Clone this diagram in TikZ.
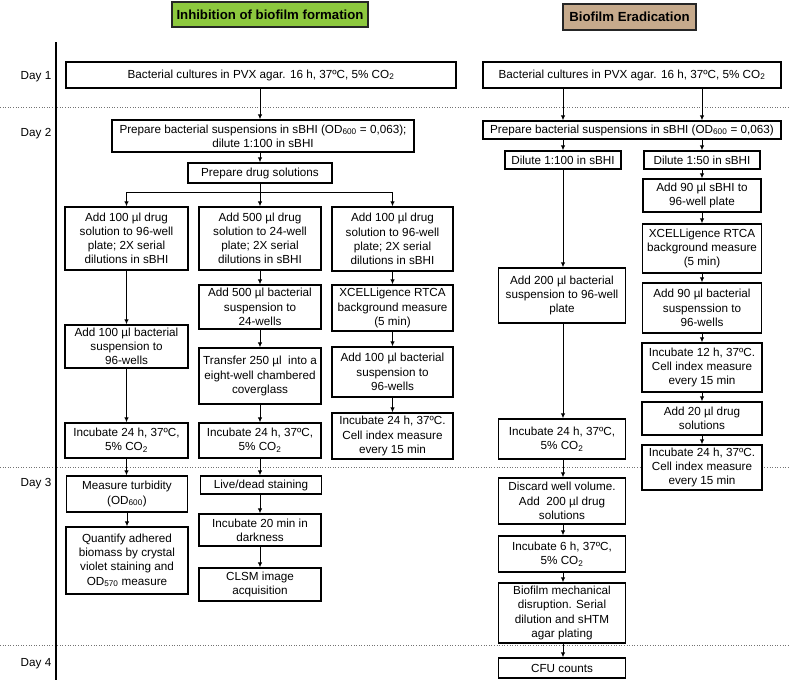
\documentclass[tikz,border=0pt]{standalone}
\usepackage{fontspec}
\setmainfont{Liberation Sans}
\usetikzlibrary{arrows.meta}
\definecolor{tgreen}{RGB}{141,200,62}
\definecolor{ttan}{RGB}{198,170,140}
\begin{document}
\begin{tikzpicture}[x=1pt,y=-1pt,
  box/.style={draw=black, line width=1.4pt, fill=white, inner sep=0pt, align=center, font=\fontsize{11.7}{14.2}\selectfont},
  bx/.style 2 args={box, minimum width=#1, minimum height=#2},
  arr/.style={-{Latex[length=5pt,width=4.5pt]}, line width=0.9pt},
  ln/.style={line width=0.9pt},
  sepline/.style={black!55, line width=0.9pt, dash pattern=on 1pt off 1.6pt},
  daylbl/.style={font=\fontsize{11.7}{14.2}\selectfont, inner sep=0pt},
  ttl/.style={draw=black!85, line width=1.4pt, inner sep=0pt, font=\bfseries\fontsize{13.2}{15}\selectfont}
]
\useasboundingbox (0,0) rectangle (789,680);

% separators and time axis
\draw[sepline] (0,107) -- (789,107);
\draw[sepline] (0,467) -- (789,467);
\draw[sepline] (0,645) -- (789,645);
\draw[line width=1.8pt] (56,42) -- (56,680);

% titles
\node[ttl, fill=tgreen, minimum width=196, minimum height=25] (t1) at (270,14.5) {Inhibition of biofilm formation};
\node[ttl, fill=ttan, minimum width=133, minimum height=26] (t2) at (629.5,17) {Biofilm Eradication};

% day labels
\node[daylbl] (d1) at (36,77) {Day 1};
\node[daylbl] (d2) at (36,134) {Day 2};
\node[daylbl] (d3) at (36,484) {Day 3};
\node[daylbl] (d4) at (36,664) {Day 4};

% ---------- left part ----------
\node[bx={390}{26}] (L0) at (261,75) {Bacterial cultures in PVX agar. 16 h, 37ºC, 5\% CO\textsubscript{2}};
\node[bx={302}{32}] (LP) at (263,136) {Prepare bacterial suspensions in sBHI (OD\textsubscript{600} = 0,063);\\dilute 1:100 in sBHI};
\node[bx={144}{20}] (LD) at (260,173) {Prepare drug solutions};
\coordinate (bar) at (260,192);

\node[bx={123}{63}] (A1) at (126.5,238.5) {Add 100 µl drug\\solution to 96-well\\plate; 2X serial\\dilutions in sBHI};
\node[bx={122}{63}] (B1) at (260,238.5) {Add 500 µl drug\\solution to 24-well\\plate; 2X serial\\dilutions in sBHI};
\node[bx={121}{64}] (C1) at (392.5,239) {Add 100 µl drug\\solution to 96-well\\plate; 2X serial\\dilutions in sBHI};

\node[bx={123}{43}] (A2) at (126.5,346.5) {Add 100 µl bacterial\\suspension to\\96-wells};
\node[bx={122}{44}] (B2) at (260,307) {Add 500 µl bacterial\\suspension to\\24-wells};
\node[bx={122}{56}] (B3) at (260,376) {Transfer 250 µl\ \ into a\\eight-well chambered\\coverglass};
\node[bx={121}{46}] (C2) at (392.5,308) {XCELLigence RTCA\\background measure\\(5 min)};
\node[bx={121}{50}] (C3) at (392.5,372) {Add 100 µl bacterial\\suspension to\\96-wells};
\node[bx={121}{46}] (C4) at (392.5,436) {Incubate 24 h, 37ºC.\\Cell index measure\\every 15 min};

\node[bx={123}{35}] (A3) at (126.5,440.5) {Incubate 24 h, 37ºC,\\5\% CO\textsubscript{2}};
\node[bx={122}{35}] (B4) at (260,440.5) {Incubate 24 h, 37ºC,\\5\% CO\textsubscript{2}};

\node[bx={121}{36}] (A4) at (127,494) {Measure turbidity\\(OD\textsubscript{600})};
\node[bx={122}{67}] (A5) at (127,560.5) {Quantify adhered\\biomass by crystal\\violet staining and\\OD\textsubscript{570} measure};
\node[bx={121}{18}] (B5) at (261,485) {Live/dead staining};
\node[bx={122}{32}] (B6) at (260,530) {Incubate 20 min in\\darkness};
\node[bx={122}{33}] (B7) at (260,584.5) {CLSM image\\acquisition};

% ---------- right part ----------
\node[bx={298}{26}] (R0) at (632,75) {Bacterial cultures in PVX agar. 16 h, 37ºC, 5\% CO\textsubscript{2}};
\node[bx={298}{18}] (RP) at (632,130) {Prepare bacterial suspensions in sBHI (OD\textsubscript{600} = 0,063)};
\node[bx={116}{18}] (RD1) at (563,160) {Dilute 1:100 in sBHI};
\node[bx={116}{18}] (RD2) at (702,160) {Dilute 1:50 in sBHI};

\node[bx={127}{55}] (RA200) at (562,295.5) {Add 200 µl bacterial\\suspension to 96-well\\plate};
\node[bx={127}{40}] (RI24b) at (562,439) {Incubate 24 h, 37ºC,\\5\% CO\textsubscript{2}};
\node[bx={127}{46}] (RDisc) at (562,501) {Discard well volume.\\Add\ \ 200 µl drug\\solutions};
\node[bx={127}{36}] (RI6) at (562,554) {Incubate 6 h, 37ºC,\\5\% CO\textsubscript{2}};
\node[bx={127}{60}] (RBio) at (562,613) {Biofilm mechanical\\disruption. Serial\\dilution and sHTM\\agar plating};
\node[bx={127}{20}] (CFU) at (562,668) {CFU counts};

\node[bx={118}{33}] (RA90) at (702,195.5) {Add 90 µl sBHI to\\96-well plate};
\node[bx={119}{49}] (RX) at (702,248.5) {XCELLigence RTCA\\background measure\\(5 min)};
\node[bx={119}{50}] (RA90b) at (702,308) {Add 90 µl bacterial\\suspenssion to\\96-wells};
\node[bx={120}{49}] (RI12) at (702,367.5) {Incubate 12 h, 37ºC.\\Cell index measure\\every 15 min};
\node[bx={120}{33}] (RA20) at (702,418.5) {Add 20 µl drug\\solutions};
\node[bx={120}{45}] (RI24c) at (702,467.5) {Incubate 24 h, 37ºC.\\Cell index measure\\every 15 min};

% ---------- connectors left ----------
\draw[arr] (L0.south -| LD.north) -- (LP.north -| LD.north);
\draw[arr] (LP.south -| LD.north) -- (LD.north);
\draw[ln] (LD.south) -- (bar);
\draw[arr] (bar) -| (A1.north);
\draw[arr] (bar) -- (B1.north);
\draw[arr] (bar) -| (C1.north);
\draw[arr] (A1) -- (A2);
\draw[arr] (A2) -- (A3);
\draw[arr] (A3.south) -- (A3.south |- A4.north);
\draw[arr] (A4.south) -- (A4.south |- A5.north);
\draw[arr] (B1) -- (B2);
\draw[arr] (B2) -- (B3);
\draw[arr] (B3) -- (B4);
\draw[arr] (B4.south) -- (B4.south |- B5.north);
\draw[arr] (B5.south -| B6.north) -- (B6.north);
\draw[arr] (B6) -- (B7);
\draw[arr] (C1) -- (C2);
\draw[arr] (C2) -- (C3);
\draw[arr] (C3) -- (C4);

% ---------- connectors right ----------
\draw[arr] (R0.south -| RD1.north) -- (RP.north -| RD1.north);
\draw[arr] (R0.south -| RD2.north) -- (RP.north -| RD2.north);
\draw[arr] (RP.south -| RD1.north) -- (RD1.north);
\draw[arr] (RP.south -| RD2.north) -- (RD2.north);
\draw[arr] (RD1.south) -- (RD1.south |- RA200.north);
\draw[arr] (RD1.south |- RA200.south) -- (RD1.south |- RI24b.north);
\draw[arr] (RD1.south |- RI24b.south) -- (RD1.south |- RDisc.north);
\draw[arr] (RD1.south |- RDisc.south) -- (RD1.south |- RI6.north);
\draw[arr] (RD1.south |- RI6.south) -- (RD1.south |- RBio.north);
\draw[arr] (RD1.south |- RBio.south) -- (RD1.south |- CFU.north);
\draw[arr] (RD2) -- (RA90);
\draw[arr] (RA90) -- (RX);
\draw[arr] (RX) -- (RA90b);
\draw[arr] (RA90b) -- (RI12);
\draw[arr] (RI12) -- (RA20);
\draw[arr] (RA20) -- (RI24c);
\end{tikzpicture}
\end{document}
